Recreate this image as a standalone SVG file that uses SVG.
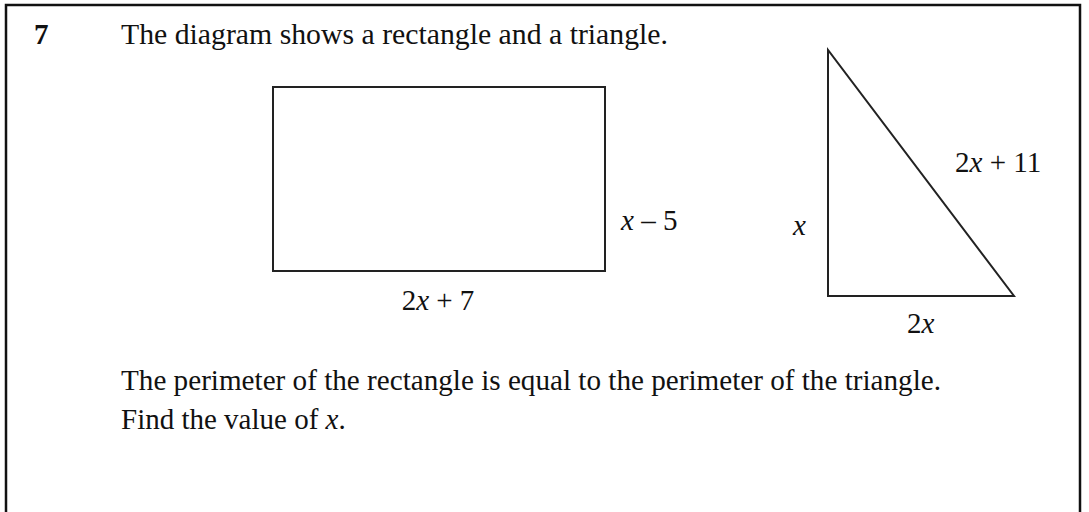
<svg xmlns="http://www.w3.org/2000/svg" width="1089" height="512" viewBox="0 0 1089 512">
<style>
.t{font-family:"Liberation Serif","Times New Roman",serif;font-size:29px;fill:#111}
.i{font-style:italic}
.shape{fill:none;stroke:#222;stroke-width:2}
</style>
<rect width="1089" height="512" fill="#fff"/>
<path d="M6 512 V5 H1080 V512" fill="none" stroke="#111" stroke-width="2.5"/>
<text class="t" x="34" y="44" font-weight="bold">7</text>
<text class="t" x="121" y="44" textLength="547" lengthAdjust="spacingAndGlyphs">The diagram shows a rectangle and a triangle.</text>
<g id="rectangle">
<rect class="shape" x="273" y="87" width="332" height="184"/>
<text class="t" x="621" y="230"><tspan class="i">x</tspan> – 5</text>
<text class="t" x="438" y="310" text-anchor="middle">2<tspan class="i">x</tspan> + 7</text>
</g>
<g id="triangle">
<polygon class="shape" points="828,50 828,296 1014,296" stroke-linejoin="miter"/>
<text class="t" x="955" y="172">2<tspan class="i">x</tspan> + 11</text>
<text class="t i" x="793" y="235">x</text>
<text class="t" x="907" y="333">2<tspan class="i">x</tspan></text>
</g>
<text class="t" x="121" y="390" textLength="820" lengthAdjust="spacingAndGlyphs">The perimeter of the rectangle is equal to the perimeter of the triangle.</text>
<text class="t" x="121" y="429">Find the value of <tspan class="i">x</tspan>.</text>
</svg>
